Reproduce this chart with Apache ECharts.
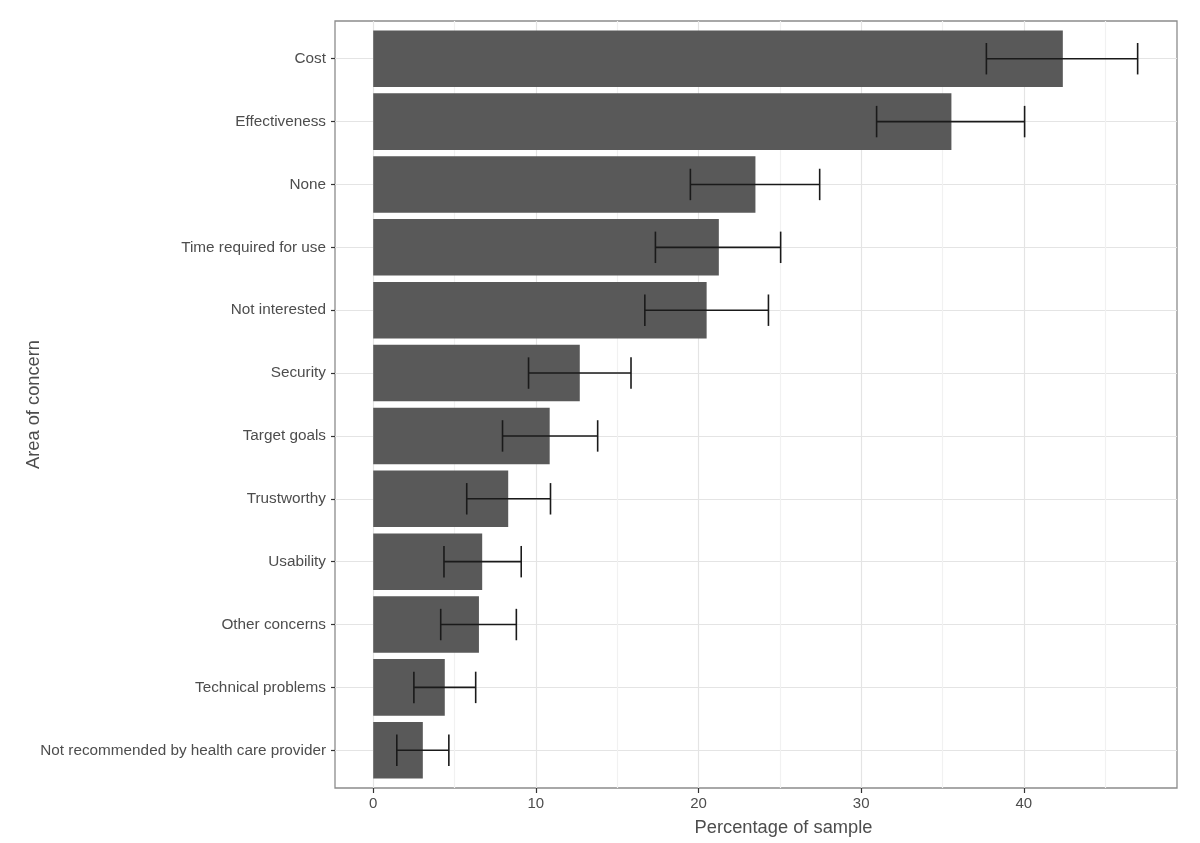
<!DOCTYPE html>
<html>
<head>
<meta charset="utf-8">
<script src="https://cdn.jsdelivr.net/npm/echarts@6/dist/echarts.min.js"></script>
<style>
html,body{margin:0;padding:0;background:#fff;}
#chart{width:1200px;height:843px;}
</style>
</head>
<body>
<div id="chart"></div>
<script>
// ---- data ----
const categories = ['Cost','Effectiveness','None','Time required for use','Not interested','Security','Target goals','Trustworthy','Usability','Other concerns','Technical problems','Not recommended by health care provider'];
const percentage = [42.4, 35.55, 23.5, 21.25, 20.5, 12.7, 10.85, 8.3, 6.7, 6.5, 4.4, 3.05];
const lowerCI = [37.7, 30.95, 19.5, 17.35, 16.7, 9.55, 7.95, 5.75, 4.35, 4.15, 2.5, 1.45];
const upperCI = [47.0, 40.05, 27.45, 25.05, 24.3, 15.85, 13.8, 10.9, 9.1, 8.8, 6.3, 4.65];
const xTicks = [0, 10, 20, 30, 40];

const FONT = '"Liberation Sans", Arial, Helvetica, sans-serif';
const TXT = '#4d4d4d';

// layout (pixels)
const panelL = 335, panelR = 1177, panelT = 21, panelB = 788;
const W = 1200, H = 843;
const xMin = -2.35, xMax = 49.42;
const pxPerUnit = (panelR - panelL) / (xMax - xMin);
const zeroX = panelL + (0 - xMin) * pxPerUnit;
const nCat = categories.length;
const bandPx = (panelB - panelT) / (nCat + 0.2);
const catTop = panelT + 0.6 * bandPx;
const catBot = panelB - 0.6 * bandPx;

const errData = categories.map((c, i) => [i, lowerCI[i], upperCI[i]]);

const chart = echarts.init(document.getElementById('chart'), null, {renderer: 'canvas'});
chart.setOption({
  animation: false,
  backgroundColor: '#fff',
  textStyle: {fontFamily: FONT},
  grid: [
    {left: panelL, right: W - panelR, top: panelT, bottom: H - panelB, show: true, borderColor: '#8c8c8c', borderWidth: 1.3, backgroundColor: '#fff', containLabel: false},
    {left: zeroX, right: W - (zeroX + 45 * pxPerUnit), top: panelT, bottom: H - panelB, containLabel: false},
    {left: zeroX, right: W - (zeroX + 40 * pxPerUnit), top: panelT, bottom: H - panelB, containLabel: false},
    {left: panelL, right: W - panelR, top: catTop, bottom: H - catBot, containLabel: false}
  ],
  xAxis: [
    {gridIndex: 0, type: 'value', min: xMin, max: xMax, show: false},
    {gridIndex: 1, type: 'value', min: 0, max: 45, interval: 5,
      axisLine: {show: false, onZero: false}, axisTick: {show: false}, axisLabel: {show: false},
      splitLine: {show: true, lineStyle: {color: ['#e4e4e4', '#f1f1f1'], width: 1.2}}},
    {gridIndex: 2, type: 'value', min: 0, max: 40, interval: 10, position: 'bottom',
      axisLine: {show: false, onZero: false},
      axisTick: {show: true, length: 5, lineStyle: {color: '#333', width: 1.2}},
      axisLabel: {show: true, color: TXT, fontSize: 15, fontFamily: FONT, margin: 8,
        customValues: xTicks},
      splitLine: {show: false}},
    {gridIndex: 3, type: 'value', min: xMin, max: xMax, show: false, splitLine: {show: false}}
  ],
  yAxis: [
    {gridIndex: 0, type: 'value', show: false},
    {gridIndex: 1, type: 'value', show: false},
    {gridIndex: 2, type: 'value', show: false},
    {gridIndex: 3, type: 'category', data: categories, inverse: true, boundaryGap: false, position: 'left',
      axisLine: {show: false, onZero: false},
      axisTick: {show: true, length: 4, lineStyle: {color: '#333', width: 1.2}},
      axisLabel: {show: true, interval: 0, color: TXT, fontSize: 15.3, fontFamily: FONT, margin: 9},
      splitLine: {show: true, lineStyle: {color: '#e4e4e4', width: 1.2}}}
  ],
  graphic: [
    {type: 'text', x: 783.5, y: 828, z: 10,
      style: {text: 'Percentage of sample', fill: TXT, font: '18.3px ' + FONT, textAlign: 'center', textVerticalAlign: 'middle'}},
    {type: 'text', x: 34, y: (panelT + panelB) / 2, rotation: Math.PI / 2, z: 10,
      style: {text: 'Area of concern', fill: TXT, font: '18.3px ' + FONT, textAlign: 'center', textVerticalAlign: 'middle'}}
  ],
  series: [
    {type: 'bar', xAxisIndex: 3, yAxisIndex: 3, data: percentage, barWidth: '90%', clip: false, z: 2,
      itemStyle: {color: '#595959'}, silent: true},
    {type: 'custom', xAxisIndex: 3, yAxisIndex: 3, data: errData, clip: false, silent: true, z: 5,
      encode: {x: [1, 2], y: 0},
      renderItem: function (params, api) {
        const idx = api.value(0);
        const lo = api.coord([api.value(1), idx]);
        const hi = api.coord([api.value(2), idx]);
        const h = api.size([0, 1])[1] * 0.5 / 2;
        const st = {stroke: '#1a1a1a', lineWidth: 1.6};
        return {type: 'group', children: [
          {type: 'line', shape: {x1: lo[0], y1: lo[1], x2: hi[0], y2: hi[1]}, style: st},
          {type: 'line', shape: {x1: lo[0], y1: lo[1] - h, x2: lo[0], y2: lo[1] + h}, style: st},
          {type: 'line', shape: {x1: hi[0], y1: hi[1] - h, x2: hi[0], y2: hi[1] + h}, style: st}
        ]};
      }}
  ]
});
</script>
</body>
</html>
